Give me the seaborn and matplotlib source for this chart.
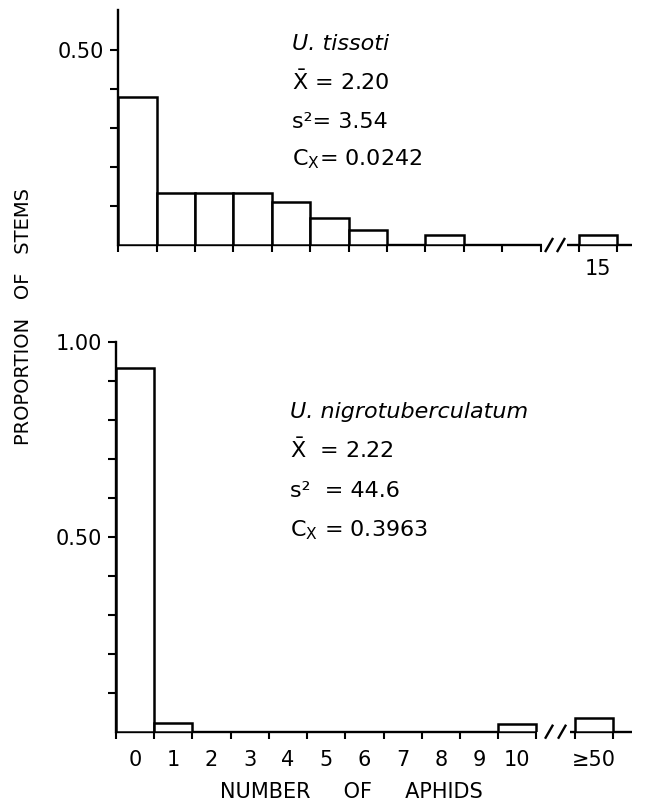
import numpy as np
import pandas as pd
import matplotlib
matplotlib.use("Agg")
import matplotlib.pyplot as plt
import seaborn as sns

# ---------------- data ----------------
top_counts = [0, 1, 2, 3, 4, 5, 6, 8, 15]
top_props = [0.379, 0.134, 0.134, 0.134, 0.111, 0.070, 0.038, 0.026, 0.026]

bottom_counts = [0, 1, 10, 50]
bottom_props = [0.932, 0.023, 0.021, 0.036]

top_tick_counts = [15]
top_tick_labels = ["15"]
bottom_tick_counts = [0, 1, 2, 3, 4, 5, 6, 7, 8, 9, 10, 50]
bottom_tick_labels = ["0", "1", "2", "3", "4", "5", "6", "7", "8", "9", "10", "≥50"]

top_species = "U. tissoti"
top_stats = [r"$\bar{\mathrm{X}}$ = 2.20", "s²= 3.54", r"C$_\mathrm{X}$= 0.0242"]
bottom_species = "U. nigrotuberculatum"
bottom_stats = [r"$\bar{\mathrm{X}}$  = 2.22", "s²  = 44.6", r"C$_\mathrm{X}$ = 0.3963"]

y_label = "PROPORTION   OF   STEMS"
x_label = "NUMBER     OF     APHIDS"


def slot(c):
    """Broken x scale: counts up to 10 keep their place, larger ones go after the break."""
    return c if c <= 10 else 12


# ---------------- style ----------------
sns.set_style("white")
plt.rcParams["font.family"] = ["DejaVu Sans"]
plt.rcParams["mathtext.fontset"] = "dejavusans"
plt.rcParams["text.color"] = "black"
plt.rcParams["xtick.color"] = "black"
plt.rcParams["ytick.color"] = "black"
plt.rcParams["axes.labelcolor"] = "black"

W, H = 657, 807
fig = plt.figure(figsize=(W / 100, H / 100), dpi=100)

# axes placement (pixel based)
ax_top = fig.add_axes([118.3 / W, 1 - 245 / H, (632 - 118.3) / W, 235 / H])
ax_bot = fig.add_axes([116 / W, 1 - 731.7 / H, (632 - 116) / W, 390 / H])

df_top = pd.DataFrame({"slot": [slot(c) for c in top_counts], "prop": top_props})
df_bot = pd.DataFrame({"slot": [slot(c) for c in bottom_counts], "prop": bottom_props})

for ax, df in ((ax_top, df_top), (ax_bot, df_bot)):
    sns.barplot(data=df, x="slot", y="prop", native_scale=True, width=1,
                color="white", edgecolor="black", linewidth=1.8,
                errorbar=None, ax=ax, zorder=3)
    ax.set_xlabel("")
    ax.set_ylabel("")
    for s in ("top", "right", "bottom"):
        ax.spines[s].set_visible(False)
    ax.spines["left"].set_linewidth(1.7)
    ax.spines["left"].set_color("black")
    ax.set_facecolor("white")

# limits
ax_top.set_xlim(-0.5, 12.88)
ax_top.set_ylim(0, 0.603)
ax_bot.set_xlim(-0.5, 13.0)
ax_bot.set_ylim(0, 1.0)

# y ticks
ax_top.set_yticks([0.1, 0.2, 0.3, 0.4, 0.5])
ax_top.set_yticklabels(["", "", "", "", "0.50"])
ax_bot.set_yticks([0.1, 0.2, 0.3, 0.4, 0.5, 0.6, 0.7, 0.8, 0.9, 1.0])
ax_bot.set_yticklabels(["", "", "", "", "0.50", "", "", "", "", "1.00"])

# x ticks: minor at bin edges (marks), major at centres (labels)
edges = [k - 0.5 for k in range(0, 12)] + [11.5, 12.5]
for ax in (ax_top, ax_bot):
    ax.set_xticks(edges, minor=True)
    ax.tick_params(axis="x", which="minor", direction="out", length=5,
                   width=1.5, color="black", bottom=True)
    ax.tick_params(axis="y", which="major", direction="out", length=6,
                   width=1.5, color="black", left=True, labelsize=15, pad=4)

ax_top.set_xticks([slot(c) for c in top_tick_counts])
ax_top.set_xticklabels(top_tick_labels)
ax_top.tick_params(axis="x", which="major", length=0, labelsize=15, pad=10)
ax_bot.set_xticks([slot(c) for c in bottom_tick_counts])
ax_bot.set_xticklabels(bottom_tick_labels)
ax_bot.tick_params(axis="x", which="major", length=0, labelsize=15, pad=13)

# broken baseline with // marks
def baseline(ax, xmax, b0, b1, s0, s1, hh, hw):
    kw = dict(color="black", lw=1.7, clip_on=False, zorder=2,
              solid_capstyle="butt")
    tr = ax.get_xaxis_transform()
    ax.plot([-0.5, b0], [0, 0], transform=tr, **kw)
    ax.plot([b1, xmax], [0, 0], transform=tr, **kw)
    for sx in (s0, s1):
        ax.plot([sx - hw, sx + hw], [-hh, hh], transform=tr, **kw)

baseline(ax_top, 12.88, 10.53, 11.18, 10.72, 11.03, 0.03, 0.105)
baseline(ax_bot, 13.0, 10.52, 11.38, 10.83, 11.17, 0.018, 0.105)

# annotations
def stats_block(x, baselines, species, stats):
    fig.text(x / W, 1 - baselines[0] / H, species, fontsize=16,
             style="italic", va="baseline", ha="left")
    for b, s in zip(baselines[1:], stats):
        fig.text(x / W, 1 - b / H, s, fontsize=16, va="baseline", ha="left")

stats_block(292, [50, 90, 128, 165], top_species, top_stats)
stats_block(290, [418, 458, 497, 536], bottom_species, bottom_stats)

# axis titles
fig.text(24 / W, 1 - 316 / H, y_label, rotation=90, fontsize=14,
         ha="center", va="center")
fig.text(351.5 / W, 1 - 792 / H, x_label, fontsize=15,
         ha="center", va="center")

fig.savefig("out.png", dpi=100, facecolor="white")
